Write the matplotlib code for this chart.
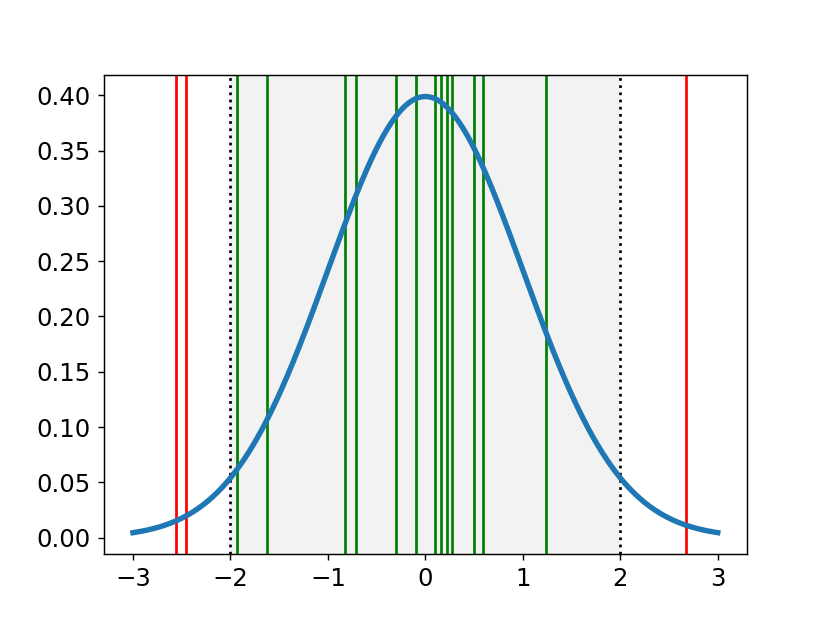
import numpy as np
import matplotlib
matplotlib.use("Agg")
import matplotlib.pyplot as plt

# Sample values inside the +/-2 band (green) and outside (red)
inside = [-1.928, -1.63, -0.82, -0.708, -0.30, -0.093, 0.101, 0.157, 0.223, 0.275, 0.497, 0.589, 1.24]
outside = [-2.56, -2.456, 2.676]
bounds = [-2.0, 2.0]
x_range = [-3.0, 3.0]

fig, ax = plt.subplots(figsize=(830/130, 623/130), dpi=130)

ax.axvspan(bounds[0], bounds[1], color='grey', alpha=0.1, lw=0)
for b in bounds:
    ax.axvline(b, color='black', linestyle=':')
for v in inside:
    ax.axvline(v, color='green')
for v in outside:
    ax.axvline(v, color='red')

x = np.linspace(x_range[0], x_range[1], 300)
y = np.exp(-x**2 / 2) / np.sqrt(2 * np.pi)
ax.plot(x, y, lw=3, color='#1f77b4')
ax.tick_params(labelsize=13.5)

fig.savefig("out.png", dpi=130)
